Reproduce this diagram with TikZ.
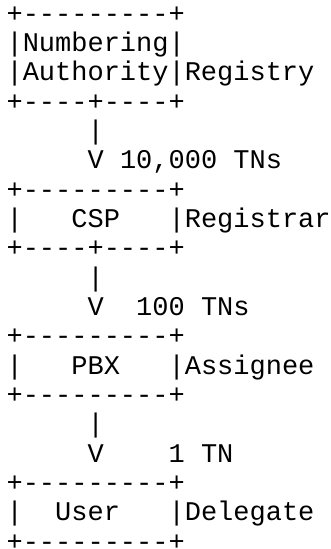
\documentclass[tikz,border=0pt]{standalone}
\usepackage{fontspec}
\setmonofont{Liberation Mono}
\tikzset{ascii/.style={anchor=base west, inner sep=0pt, outer sep=0pt, text=black, font=\fontsize{27pt}{29pt}\selectfont\ttfamily}}
\newcommand\asc[4]{\node[ascii] (#1) at ({6.6pt+#3*16.2pt},{-22pt-(#2-1)*29.35pt}) {#4};}
\begin{document}
\begin{tikzpicture}
\fill[white] (0,0) rectangle (331pt,-549pt);
\useasboundingbox (0,0) rectangle (331pt,-549pt);
\asc{r1}{1}{0}{+---------+}
\asc{r2}{2}{0}{|Numbering|}
\asc{r3}{3}{0}{|Authority|Registry}
\asc{r4}{4}{0}{+----+----+}
\asc{r5}{5}{5}{|}
\asc{r6}{6}{5}{V 10,000 TNs}
\asc{r7}{7}{0}{+---------+}
\asc{r8a}{8}{0}{|}
\asc{r8b}{8}{4}{CSP}
\asc{r8c}{8}{10}{|Registrar}
\asc{r9}{9}{0}{+----+----+}
\asc{r10}{10}{5}{|}
\asc{r11a}{11}{5}{V}
\asc{r11b}{11}{8}{100 TNs}
\asc{r12}{12}{0}{+---------+}
\asc{r13a}{13}{0}{|}
\asc{r13b}{13}{4}{PBX}
\asc{r13c}{13}{10}{|Assignee}
\asc{r14}{14}{0}{+---------+}
\asc{r15}{15}{5}{|}
\asc{r16a}{16}{5}{V}
\asc{r16b}{16}{10}{1 TN}
\asc{r17}{17}{0}{+---------+}
\asc{r18a}{18}{0}{|}
\asc{r18b}{18}{3}{User}
\asc{r18c}{18}{10}{|Delegate}
\asc{r19}{19}{0}{+---------+}
\end{tikzpicture}
\end{document}
